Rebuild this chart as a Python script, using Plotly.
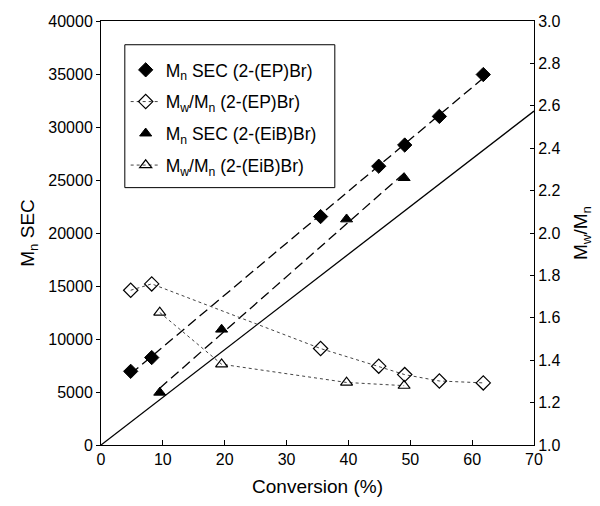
import numpy as np
import plotly.graph_objects as go

# Conversion (%) and number-average molecular weight from SEC
conv_ep = [4.8, 8.2, 35.5, 44.9, 49.1, 54.7, 61.8]
mn_ep = [6950, 8250, 21550, 26300, 28300, 31000, 34950]
pdi_ep = [1.73, 1.76, 1.455, 1.372, 1.332, 1.302, 1.293]

conv_eib = [9.5, 19.5, 39.7, 49.0]
mn_eib = [4950, 10900, 21300, 25200]
pdi_eib = [1.625, 1.381, 1.295, 1.28]

# Theoretical Mn versus conversion
theory_conv = [0, 70]
theory_mn = [0, 31500]

font_family = "Liberation Sans, Arial, sans-serif"


def fit_line(x, y):
    slope, icpt = np.polyfit(x, y, 1)
    xs = np.array([min(x), max(x)])
    return xs, slope * xs + icpt


fig = go.Figure()

# Theoretical line
fig.add_trace(go.Scatter(x=theory_conv, y=theory_mn, mode="lines",
                         line=dict(color="black", width=1.3),
                         showlegend=False, hoverinfo="skip"))

# Linear fits through the SEC data
for cx, my in [(conv_ep, mn_ep), (conv_eib, mn_eib)]:
    fx, fy = fit_line(cx, my)
    fig.add_trace(go.Scatter(x=fx, y=fy, mode="lines",
                             line=dict(color="black", width=1.3, dash="10px,5px"),
                             showlegend=False, hoverinfo="skip"))

fig.add_trace(go.Scatter(
    x=conv_ep, y=mn_ep, mode="markers", name="M<sub>n</sub> SEC (2-(EP)Br)",
    legendgroup="a",
    marker=dict(symbol="diamond", size=11, color="black",
                line=dict(color="black", width=1))))
fig.add_trace(go.Scatter(
    x=conv_ep, y=pdi_ep, mode="lines+markers", yaxis="y2",
    name="M<sub>w</sub>/M<sub>n</sub> (2-(EP)Br)", legendgroup="b",
    line=dict(color="#444", width=1, dash="dot"),
    marker=dict(symbol="diamond-open", size=11, color="black",
                line=dict(color="black", width=1.2))))
fig.add_trace(go.Scatter(
    x=conv_eib, y=mn_eib, mode="markers", name="M<sub>n</sub> SEC (2-(EiB)Br)",
    legendgroup="c",
    marker=dict(symbol="triangle-up", size=10.5, color="black",
                line=dict(color="black", width=1))))
fig.add_trace(go.Scatter(
    x=conv_eib, y=pdi_eib, mode="lines+markers", yaxis="y2",
    name="M<sub>w</sub>/M<sub>n</sub> (2-(EiB)Br)", legendgroup="d",
    line=dict(color="#444", width=1, dash="dot"),
    marker=dict(symbol="triangle-up-open", size=10.5, color="black",
                line=dict(color="black", width=1.2))))

# Frame around the legend
fig.add_shape(type="rect", xref="paper", yref="paper",
              x0=0.055, x1=0.54, y0=0.607, y1=0.944,
              line=dict(color="black", width=1), fillcolor="rgba(0,0,0,0)",
              layer="above")

fig.update_layout(
    width=600, height=506,
    margin=dict(l=101, r=64, t=21, b=55),
    paper_bgcolor="white", plot_bgcolor="white",
    font=dict(family=font_family, size=16, color="black"),
    showlegend=True,
    legend=dict(x=0.057, y=0.927, xanchor="left", yanchor="top",
                bgcolor="rgba(255,255,255,0)", borderwidth=0,
                traceorder="grouped", tracegroupgap=6,
                font=dict(size=17.5)),
    xaxis=dict(range=[0, 70], dtick=10, showgrid=False, zeroline=False,
               showline=True, linecolor="black", linewidth=1, mirror=True,
               ticks="inside", ticklen=5, tickcolor="black",
               tickfont=dict(size=16),
               title=dict(text="Conversion (%)", standoff=12)),
    yaxis=dict(range=[0, 40000], dtick=5000, tickformat="d",
               showgrid=False, zeroline=False,
               showline=True, linecolor="black", linewidth=1,
               ticks="outside", ticklen=4, tickcolor="black",
               tickfont=dict(size=16),
               title=dict(text="M<sub>n</sub> SEC", standoff=8)),
    yaxis2=dict(range=[1.0, 3.0], dtick=0.2, tickformat=".1f",
                overlaying="y", side="right", showgrid=False, zeroline=False,
                showline=True, linecolor="black", linewidth=1,
                ticks="inside", ticklen=4, tickcolor="black",
                tickfont=dict(size=16),
                title=dict(text="M<sub>w</sub>/M<sub>n</sub>", standoff=14)),
)

fig.write_html("out.html")
